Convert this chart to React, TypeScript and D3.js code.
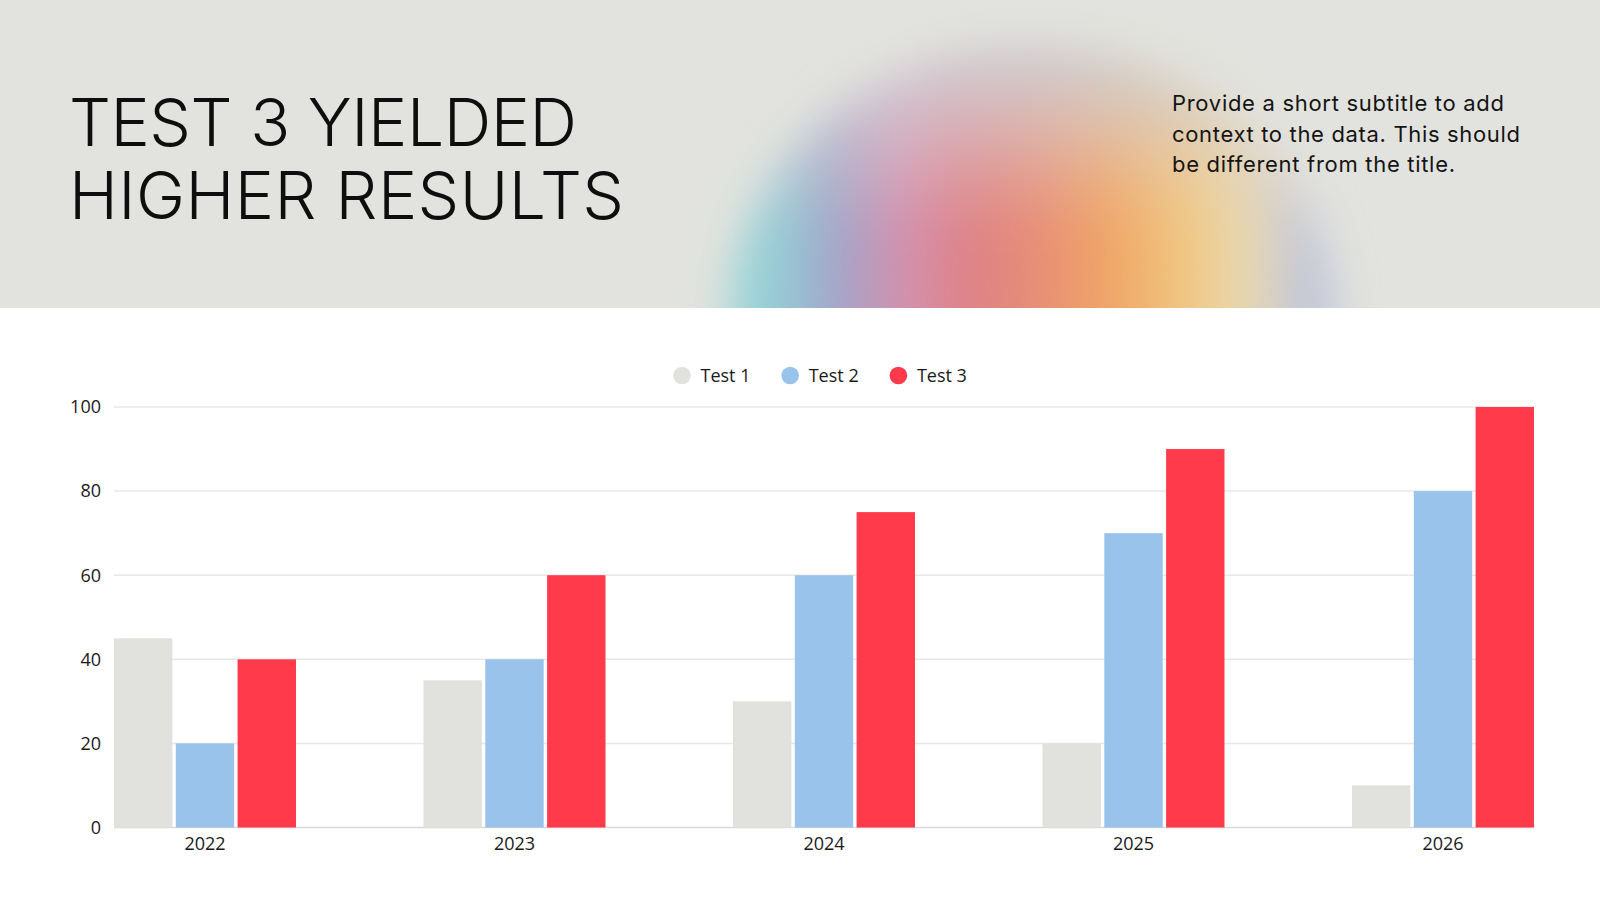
import React, { useEffect } from "react";
import * as d3 from "d3";

const categories = ["2022", "2023", "2024", "2025", "2026"];
const seriesNames = ["Test 1", "Test 2", "Test 3"];
const test1 = [45, 35, 30, 20, 10];
const test2 = [20, 40, 60, 70, 80];
const test3 = [40, 60, 75, 90, 100];
const seriesValues = [test1, test2, test3];
const yTicks = [0, 20, 40, 60, 80, 100];
const seriesColors = ["#e1e2dd", "#99c3ea", "#ff3a4b"];
const titleLines = ["TEST 3 YIELDED", "HIGHER RESULTS"];
const subtitleLines = [
  "Provide a short subtitle to add",
  "context to the data. This should",
  "be different from the title.",
];

const W = 1600;
const H = 900;
const HEADER_H = 308;
const PLOT = { left: 114, right: 1534, top: 407, bottom: 827.5 };

const blobStops: [number, string][] = [
  [0.0, "#8fd8d8"],
  [0.07, "#92d0d8"],
  [0.17, "#9ea4cc"],
  [0.29, "#d88cac"],
  [0.39, "#e07c82"],
  [0.5, "#ea8870"],
  [0.63, "#f4a45a"],
  [0.76, "#f4c97c"],
  [0.86, "#ecdcb2"],
  [0.95, "#c3c7da"],
  [1.0, "#b6bedc"],
];

export default function App() {
  useEffect(() => {
    document.body.style.margin = "0";
    document.body.style.background = "#ffffff";
  }, []);

  const x0 = d3
    .scaleBand<string>()
    .domain(categories)
    .range([PLOT.left, PLOT.right])
    .paddingInner(0.412)
    .paddingOuter(0);
  const x1 = d3
    .scaleBand<string>()
    .domain(seriesNames)
    .range([0, x0.bandwidth()])
    .paddingInner(0.055);
  const y = d3.scaleLinear().domain([0, 100]).range([PLOT.bottom, PLOT.top]);

  const axisFont = "'Open Sans', 'Noto Sans', sans-serif";
  const titleFont = "Inter, 'Noto Sans', sans-serif";

  const blobCx = 1032;
  const blobRx = 300;
  const blobRy = 272;

  const legendStart = 682;
  const legendStep = 108.2;

  return (
    <svg
      width={W}
      height={H}
      viewBox={`0 0 ${W} ${H}`}
      style={{ position: "absolute", left: 0, top: 0, display: "block" }}
    >
      <defs>
        <clipPath id="headerClip">
          <rect x={0} y={0} width={W} height={HEADER_H} />
        </clipPath>
        <linearGradient
          id="blobH"
          gradientUnits="userSpaceOnUse"
          x1={blobCx - blobRx}
          y1={0}
          x2={blobCx + blobRx}
          y2={0}
        >
          {blobStops.map(([o, c], i) => (
            <stop key={i} offset={o} stopColor={c} />
          ))}
        </linearGradient>
        <linearGradient
          id="blobV"
          gradientUnits="userSpaceOnUse"
          x1={0}
          y1={HEADER_H + 10 - blobRy}
          x2={0}
          y2={HEADER_H}
        >
          <stop offset={0} stopColor="#ccd4dc" stopOpacity={0.95} />
          <stop offset={0.25} stopColor="#d4d4da" stopOpacity={0.65} />
          <stop offset={0.5} stopColor="#e0d4d6" stopOpacity={0.25} />
          <stop offset={0.7} stopColor="#e6dcd8" stopOpacity={0} />
        </linearGradient>
        <filter id="blobBlur" x="-30%" y="-30%" width="160%" height="160%">
          <feGaussianBlur in="SourceGraphic" stdDeviation="22" result="blur" />
          <feTurbulence
            type="fractalNoise"
            baseFrequency="0.9"
            numOctaves="2"
            seed="3"
            result="noise"
          />
          <feColorMatrix
            in="noise"
            type="matrix"
            values="0 0 0 0 0.5  0 0 0 0 0.5  0 0 0 0 0.5  0 0 0 0.16 0"
            result="grain"
          />
          <feComposite in="grain" in2="blur" operator="in" result="grainIn" />
          <feMerge>
            <feMergeNode in="blur" />
            <feMergeNode in="grainIn" />
          </feMerge>
        </filter>
      </defs>

      {/* header band */}
      <rect x={0} y={0} width={W} height={HEADER_H} fill="#e2e3de" />
      <g clipPath="url(#headerClip)">
        <g filter="url(#blobBlur)">
          <ellipse
            cx={blobCx}
            cy={HEADER_H + 10}
            rx={blobRx}
            ry={blobRy}
            fill="url(#blobH)"
          />
          <ellipse
            cx={blobCx}
            cy={HEADER_H + 10}
            rx={blobRx}
            ry={blobRy}
            fill="url(#blobV)"
          />
        </g>
      </g>
      <rect x={0} y={HEADER_H} width={W} height={H - HEADER_H} fill="#ffffff" />

      {/* title */}
      <g fontFamily={titleFont} fontWeight={300} fill="#0e0e0e">
        <text
          x={69}
          y={146}
          fontSize={66}
          textLength={508}
          lengthAdjust="spacing"
        >
          {titleLines[0]}
        </text>
        <text
          x={69}
          y={218.5}
          fontSize={66}
          textLength={555}
          lengthAdjust="spacing"
        >
          {titleLines[1]}
        </text>
      </g>

      {/* subtitle */}
      <g fontFamily={titleFont} fontWeight={400} fill="#141414" fontSize={22}>
        {subtitleLines.map((line, i) => (
          <text
            key={i}
            x={1172}
            y={111 + i * 30.5}
            textLength={[332, 348, 283][i]}
            lengthAdjust="spacing"
          >
            {line}
          </text>
        ))}
      </g>

      {/* legend */}
      <g fontFamily={axisFont} fontSize={18} fill="#1a1a1a">
        {seriesNames.map((name, i) => (
          <g key={name} transform={`translate(${legendStart + i * legendStep},375.5)`}>
            <circle cx={0} cy={0} r={8.8} fill={seriesColors[i]} />
            <text x={18.5} y={6.3}>
              {name}
            </text>
          </g>
        ))}
      </g>

      {/* gridlines */}
      <g>
        {yTicks.map((t) => (
          <line
            key={t}
            x1={PLOT.left}
            x2={PLOT.right}
            y1={y(t)}
            y2={y(t)}
            stroke={t === 0 ? "#d9d9d9" : "#e8e8e8"}
            strokeWidth={1.5}
          />
        ))}
      </g>

      {/* y tick labels */}
      <g fontFamily={axisFont} fontSize={18} fill="#1a1a1a" textAnchor="end">
        {yTicks.map((t) => (
          <text key={t} x={101} y={y(t) + 6.3}>
            {t}
          </text>
        ))}
      </g>

      {/* bars */}
      <g>
        {categories.map((cat, ci) => (
          <g key={cat} transform={`translate(${x0(cat)},0)`}>
            {seriesNames.map((s, si) => {
              const v = seriesValues[si][ci];
              return (
                <rect
                  key={s}
                  x={x1(s)}
                  y={y(v)}
                  width={x1.bandwidth()}
                  height={y(0) - y(v)}
                  fill={seriesColors[si]}
                />
              );
            })}
          </g>
        ))}
      </g>

      {/* x labels */}
      <g fontFamily={axisFont} fontSize={18} fill="#1a1a1a" textAnchor="middle">
        {categories.map((cat) => (
          <text key={cat} x={(x0(cat) as number) + x0.bandwidth() / 2} y={850}>
            {cat}
          </text>
        ))}
      </g>
    </svg>
  );
}
